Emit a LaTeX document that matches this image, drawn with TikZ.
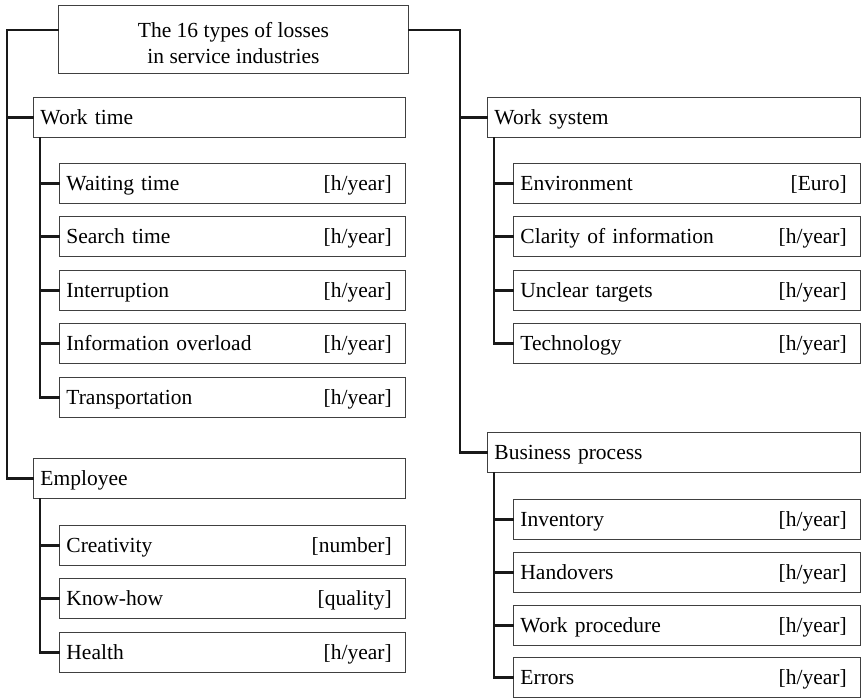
\documentclass[tikz,border=0pt]{standalone}
\usepackage{fontspec}
\setmainfont{Liberation Serif}
\begin{document}
\begin{tikzpicture}[x=1pt,y=-1pt,
  txt/.style={font=\fontsize{21.5}{26}\selectfont},
  box/.style={txt, draw=black!75, line width=0.9pt, fill=white, anchor=north west,
    minimum height=40pt, inner xsep=7pt, inner ysep=0pt, text width=#1-14pt,
    text height=17pt, text depth=3pt, align=left},
  unit/.style={txt, anchor=base east, inner sep=0pt},
  link/.style={line width=2.2pt, black!90, line cap=rect}]
\useasboundingbox (0,0) rectangle (861,697);

% root
\node[draw=black!75, line width=0.9pt, anchor=north west, minimum width=350pt,
  minimum height=68pt, inner sep=0pt] (root) at (58,5) {};
\node[txt, align=center, inner sep=0pt] (roottxt) at ([yshift=-4pt]root.center)
  {The 16 types of losses\\in service industries};

% main categories
\node[box=372] (wt) at (33,97) {Work time};
\node[box=372] (em) at (33,458) {Employee};
\node[box=373] (ws) at (487,97) {Work system};
\node[box=373] (bp) at (487,432) {Business process};

% leaf rows: name, x, y, width, label, unit
\foreach \n/\x/\y/\w/\l/\u in {
  wa/59/163/346/Waiting time/{[h/year]},
  se/59/216/346/Search time/{[h/year]},
  in/59/270/346/Interruption/{[h/year]},
  io/59/323/346/Information overload/{[h/year]},
  tr/59/377/346/Transportation/{[h/year]},
  cr/59/525/346/Creativity/{[number]},
  kh/59/578/346/Know-how/{[quality]},
  he/59/632/346/Health/{[h/year]},
  en/513/163/347/Environment/{[Euro]},
  cl/513/216/347/Clarity of information/{[h/year]},
  un/513/270/347/Unclear targets/{[h/year]},
  te/513/323/347/Technology/{[h/year]},
  iv/513/499/347/Inventory/{[h/year]},
  ha/513/552/347/Handovers/{[h/year]},
  wp/513/605/347/Work procedure/{[h/year]},
  er/513/657/347/Errors/{[h/year]}} {
  \node[box=\w] (\n) at (\x,\y) {\l};
  \node[unit] (\n-u) at ([xshift=-14pt]\n.base east) {\u};
}

% trunk lines
\coordinate (lt) at (7,30);
\coordinate (rt) at (460,30);
\draw[link] (root.west |- lt) -- (lt) |- (em.west);
\draw[link] (lt |- wt.west) -- (wt.west);
\draw[link] (root.east |- rt) -- (rt) |- (bp.west);
\draw[link] (rt |- ws.west) -- (ws.west);

% sub-trees
\foreach \p/\last/\kids in {wt/tr/{wa,se,in,io,tr}, em/he/{cr,kh,he},
                            ws/te/{en,cl,un,te}, bp/er/{iv,ha,wp,er}} {
  \coordinate (\p-s) at ([xshift=7pt]\p.south west);
  \draw[link] (\p-s) -- (\p-s |- \last.west);
  \foreach \k in \kids {
    \draw[link] (\p-s |- \k.west) -- (\k.west);
  }
}
\end{tikzpicture}
\end{document}
